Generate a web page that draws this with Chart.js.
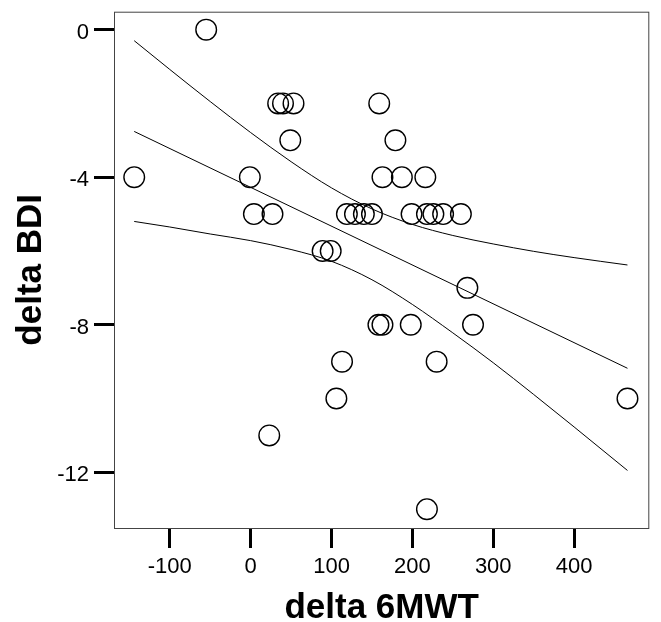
<!DOCTYPE html>
<html>
<head>
<meta charset="utf-8">
<script src="https://cdn.jsdelivr.net/npm/chart.js@4/dist/chart.umd.min.js"></script>
<style>
  html, body { margin: 0; padding: 0; background: #fff; }
  canvas { display: block; }
</style>
</head>
<body>
<canvas id="chart-bdi" width="661" height="622"></canvas>
<script>
// patients: change in 6MWT (x) vs change in BDI (y)
const walkDelta = [-55, 34, 40, 53, 159, 49, 179, -144, -1, 163, 187, 216,
    4, 27, 119, 129, 140, 150, 199, 218, 226, 238, 260,
    89, 99, 268, 158, 163, 198, 275, 113, 230, 106, 466, 23, 218];
const bdiDelta = [0, -2, -2, -2, -2, -3, -3, -4, -4, -4, -4, -4,
    -5, -5, -5, -5, -5, -5, -5, -5, -5, -5, -5,
    -6, -6, -7, -8, -8, -8, -8, -9, -9, -10, -10, -11, -13];

// fit line at its two ends
const fitX = [-144, 466];
const fitY = [-2.76, -9.18];

// 95% band of the mean
const bandX = [-144, -100, -50, 0, 50, 100, 150, 200, 250, 300, 350, 400, 466];
const bandUpper = [-0.30, -1.08, -1.95, -2.79, -3.58, -4.29, -4.86, -5.28, -5.58, -5.81, -6.01, -6.18, -6.38];
const bandLower = [-5.20, -5.35, -5.54, -5.72, -5.96, -6.28, -6.78, -7.45, -8.22, -9.03, -9.89, -10.77, -11.95];

const xTicks = [-100, 0, 100, 200, 300, 400];
const yTicks = [-12, -8, -4, 0];

function pairs(xs, ys) {
    return xs.map((v, i) => ({ x: v, y: ys[i] }));
}

Chart.defaults.font.family = "'Liberation Sans', Arial, sans-serif";
Chart.defaults.color = '#000';

const frame = {
    id: 'frame',
    afterDraw(chart) {
        const { ctx, chartArea: a } = chart;
        ctx.save();
        ctx.strokeStyle = '#444';
        ctx.lineWidth = 1;
        ctx.strokeRect(a.left + 0.5, a.top + 0.5, a.right - a.left - 1, a.bottom - a.top);
        ctx.restore();
    }
};

const lineStyle = {
    showLine: true,
    borderColor: '#000',
    borderWidth: 1,
    pointRadius: 0,
    fill: false
};

let ctx = document.getElementById('chart-bdi').getContext('2d');
let bdiChart = new Chart(ctx, {
    type: 'scatter',
    data: {
        datasets: [{
            label: 'patients',
            data: pairs(walkDelta, bdiDelta),
            pointStyle: 'circle',
            pointRadius: 10.3,
            pointBorderWidth: 1.4,
            pointBorderColor: '#000',
            pointBackgroundColor: 'rgba(0,0,0,0)'
        }, Object.assign({
            label: 'fit',
            data: pairs(fitX, fitY)
        }, lineStyle), Object.assign({
            label: 'upper',
            data: pairs(bandX, bandUpper),
            cubicInterpolationMode: 'monotone'
        }, lineStyle), Object.assign({
            label: 'lower',
            data: pairs(bandX, bandLower),
            cubicInterpolationMode: 'monotone'
        }, lineStyle)]
    },
    options: {
        responsive: false,
        animation: false,
        devicePixelRatio: 1,
        layout: { padding: { top: 10, right: 5, left: 0, bottom: 0 } },
        plugins: {
            legend: { display: false },
            tooltip: { enabled: false }
        },
        scales: {
            x: {
                type: 'linear',
                min: -169,
                max: 493,
                afterBuildTicks: (s) => { s.ticks = xTicks.map(v => ({ value: v })); },
                afterFit: (s) => { s.height = 94; s.paddingLeft = 0; s.paddingRight = 0; },
                border: { display: false },
                grid: { drawOnChartArea: false, tickLength: 20, tickWidth: 3, tickColor: '#000' },
                ticks: { color: '#000', font: { size: 22 }, padding: 6, maxRotation: 0 },
                title: {
                    display: true,
                    text: 'delta 6MWT',
                    color: '#000',
                    font: { size: 35, weight: 'bold', lineHeight: 0.8 },
                    padding: 0
                }
            },
            y: {
                type: 'linear',
                min: -13.51,
                max: 0.486,
                afterBuildTicks: (s) => { s.ticks = yTicks.map(v => ({ value: v })); },
                afterFit: (s) => { s.width = 114; s.paddingTop = 0; s.paddingBottom = 0; },
                border: { display: false },
                grid: { drawOnChartArea: false, tickLength: 20, tickWidth: 3, tickColor: '#000' },
                ticks: { color: '#000', font: { size: 22 }, padding: 5, labelOffset: 3 },
                title: {
                    display: true,
                    text: 'delta BDI',
                    color: '#000',
                    font: { size: 35, weight: 'bold', lineHeight: 1.2 },
                    padding: { top: 10, bottom: 0 }
                }
            }
        }
    },
    plugins: [frame]
});
</script>
</body>
</html>
